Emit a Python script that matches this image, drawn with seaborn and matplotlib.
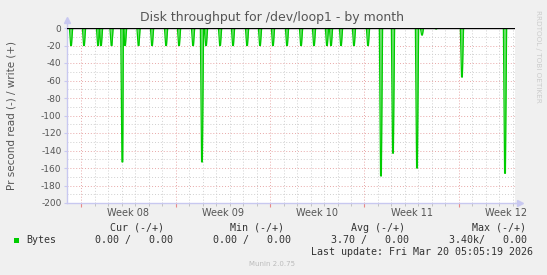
import matplotlib
matplotlib.use("Agg")
import matplotlib.pyplot as plt
import matplotlib.transforms as mtransforms
from matplotlib.patches import Rectangle
import pandas as pd
import seaborn as sns

# ---- data (days relative to Monday of Week 08) ----
spike_days = [-0.74, 0.22, 1.26, 1.48, 2.26, 3.06, 3.26, 4.26, 5.26, 6.30, 7.26,
              8.30, 8.96, 9.26, 10.30, 11.26, 12.30, 13.26, 14.22, 15.26, 16.30,
              17.26, 18.22, 18.52, 19.26, 20.22, 21.26, 22.22, 23.11, 24.89,
              25.26, 26.30, 28.22, 31.41]
spike_values = [-20, -20, -20, -20, -20, -153, -20, -20, -20, -20, -20,
                -20, -153, -20, -20, -20, -20, -20, -20, -20, -20,
                -20, -20, -20, -20, -20, -20, -169, -143, -160,
                -8, -1, -56, -166]
week_starts = [0, 7, 14, 21, 28]
week_labels = ["Week 08", "Week 09", "Week 10", "Week 11", "Week 12"]
y_ticks = [0, -20, -40, -60, -80, -100, -120, -140, -160, -180, -200]
legend_cols = ["Cur (-/+)", "Min (-/+)", "Avg (-/+)", "Max (-/+)"]
legend_vals = ["0.00 /   0.00", "0.00 /   0.00", "3.70 /   0.00", "3.40k/   0.00"]
series_name = "Bytes"
last_update = "Last update: Fri Mar 20 05:05:19 2026"
title = "Disk throughput for /dev/loop1 - by month"
x_min, x_max = -1.04, 32.15

# ---- build line series (zero baseline with spikes) ----
pts = [(x_min, 0.0)]
for d, v in zip(spike_days, spike_values):
    pts += [(d - 0.12, 0.0), (d - 0.03, v), (d + 0.03, v), (d + 0.12, 0.0)]
pts.append((x_max, 0.0))
df = pd.DataFrame(pts, columns=["day", "value"]).sort_values("day", kind="stable")

W, H = 547, 275
fig = plt.figure(figsize=(W / 100, H / 100), dpi=100, facecolor="#f0f0f0")
L, R, T, B = 67, 515, 28, 203
ax = fig.add_axes([L / W, 1 - B / H, (R - L) / W, (B - T) / H])
ax.set_facecolor("white")

ax.fill_between(df["day"], df["value"], 0, color="#6ee06e", lw=0, zorder=2)
sns.lineplot(data=df, x="day", y="value", ax=ax, color="#00cc00", lw=0.9,
             estimator=None, sort=False, zorder=3)
ax.axhline(0, color="black", lw=1.0, zorder=4)

ax.set_xlim(x_min, x_max)
ax.set_ylim(-200, 0)

# grid
ax.set_yticks(y_ticks)
ax.set_yticklabels([str(v) for v in y_ticks])
ax.set_yticks([v - 10 for v in y_ticks[:-1]], minor=True)
ax.set_xticks(week_starts)
ax.set_xticklabels([""] * len(week_starts))
ax.set_xticks([d for d in range(0, 33) if d not in week_starts], minor=True)
ax.grid(which="major", color="#e8a8a8", linestyle=(0, (1, 2)), lw=0.7, zorder=1)
ax.grid(which="minor", color="#cfcfcf", linestyle=(0, (1, 2)), lw=0.7, zorder=1)
ax.set_axisbelow(True)

ax.tick_params(axis="y", which="major", length=2, color="#c8c8f0", labelsize=6.5,
               labelcolor="#555555", pad=2)
ax.tick_params(axis="y", which="minor", length=0)
ax.tick_params(axis="x", which="major", length=3, color="#e88888", pad=0)
ax.tick_params(axis="x", which="minor", length=2, color="#bbbbbb")

for s in ["top", "right"]:
    ax.spines[s].set_visible(False)
for s in ["left", "bottom"]:
    ax.spines[s].set_color("#c8c8f0")
    ax.spines[s].set_linewidth(1.0)
ax.set_xlabel("")
ax.set_ylabel("Pr second read (-) / write (+)", fontsize=7.5, color="#555555")
ax.yaxis.set_label_coords(-0.112, 0.5)

# axis arrows
ax.plot([0], [1.045], marker="^", ms=4, color="#c8c8f0", transform=ax.transAxes, clip_on=False)
ax.plot([0, 0], [1.0, 1.045], color="#c8c8f0", lw=1, transform=ax.transAxes, clip_on=False)
ax.plot([1.0, 1.012], [0, 0], color="#c8c8f0", lw=1, transform=ax.transAxes, clip_on=False)
ax.plot([1.012], [0], marker=">", ms=4, color="#c8c8f0", transform=ax.transAxes, clip_on=False)

# week labels
trans = mtransforms.blended_transform_factory(ax.transData, ax.transAxes)
for ws, lab in zip(week_starts, week_labels):
    ax.text(ws + 3.5, -0.058, lab, transform=trans, ha="center", va="center",
            fontsize=7, color="#555555")

# title
fig.text(272 / W, 1 - 18 / H, title, ha="center", va="center", fontsize=9, color="#555555")
# rrdtool credit
fig.text(538 / W, 1 - 56 / H, "RRDTOOL / TOBI OETIKER", rotation=270, ha="center",
         va="center", fontsize=5.2, color="#cccccc")

# legend
mono = "DejaVu Sans Mono"
col_head_x = [164, 284, 405, 526]
col_val_x = [173, 291, 409, 527]
for hx, vx, h, v in zip(col_head_x, col_val_x, legend_cols, legend_vals):
    fig.text(hx / W, 1 - 228 / H, h, ha="right", va="center", family=mono,
             fontsize=7.2, color="#333333")
    fig.text(vx / W, 1 - 240 / H, v, ha="right", va="center", family=mono,
             fontsize=7.2, color="#333333")
fig.patches.append(Rectangle((14 / W, 1 - 243 / H), 5 / W, 5 / H, transform=fig.transFigure,
                             facecolor="#00cc00", edgecolor="none"))
fig.text(26 / W, 1 - 240 / H, series_name, ha="left", va="center", family=mono,
         fontsize=7.2, color="#333333")
fig.text(533 / W, 1 - 252 / H, last_update, ha="right", va="center", family=mono,
         fontsize=7.2, color="#333333")
fig.text(272 / W, 1 - 264 / H, "Munin 2.0.75", ha="center", va="center",
         fontsize=5, color="#bbbbbb")

fig.savefig("out.png", dpi=100, facecolor=fig.get_facecolor())
